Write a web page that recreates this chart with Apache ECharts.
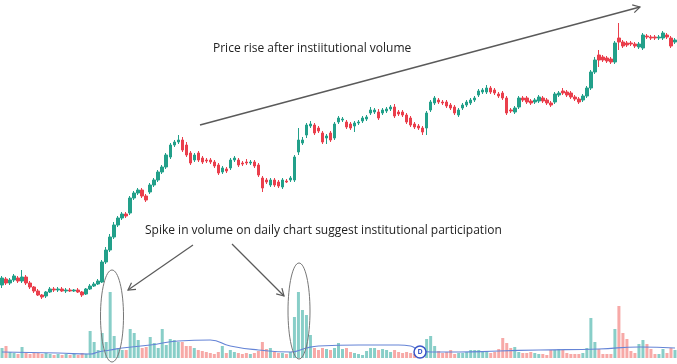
<!DOCTYPE html>
<html><head><meta charset="utf-8">
<script src="https://cdn.jsdelivr.net/npm/echarts@6/dist/echarts.min.js"></script>
<style>html,body{margin:0;padding:0;background:#fff}#c{width:677px;height:364px}</style>
</head><body><div id="c"></div>
<script>
// price values (arbitrary units), one per trading day
const opens = [115,121,117,120,122,119,123,117,113,109,
105,104,108,111,110,111,109,110,109,110,
108,106,111,114,116,118,138,150,163,175,
182,186,187,202,207,210,204,208,215,220,
228,233,243,255,258,260,255,247,240,247,
242,240,240,238,235,228,231,232,240,240,
237,238,237,238,235,222,220,215,220,218,
213,219,220,220,248,257,265,274,275,272,
267,262,267,262,278,280,278,276,274,277,
279,281,287,288,288,287,289,291,293,288,
288,285,282,276,274,272,272,290,297,300,
298,298,295,293,285,292,295,297,300,305,
308,308,312,310,306,307,302,290,288,293,
302,302,299,298,299,302,300,297,298,305,
309,308,307,303,301,300,304,312,328,345,
343,342,341,338,362,358,357,357,356,353,
352,364,363,363,362,362,365,362,358];
const closes = [122,117,120,124,119,123,117,113,109,105,
103,108,111,110,111,109,110,109,110,108,
105,111,114,116,119,138,150,163,175,182,
186,184,202,207,210,204,200,215,220,228,
233,245,255,258,260,250,245,237,245,240,
238,239,238,234,227,232,229,240,242,235,
236,237,238,234,225,212,218,220,215,214,
220,218,222,243,260,260,275,276,267,269,
258,264,260,276,282,281,273,272,277,278,
282,283,290,290,282,290,291,293,284,286,
285,278,275,273,272,268,287,298,302,298,
297,294,292,287,290,295,298,300,302,309,
310,312,308,307,304,302,287,289,292,302,
300,298,297,300,303,299,297,295,306,307,
307,305,303,301,298,304,312,328,340,340,
340,339,338,357,358,354,355,356,354,356,
365,363,362,362,363,367,363,354,360];
const lows = [112,115,115,118,117,117,115,111,107,104,
101,102,107,108,108,108,107,108,108,107,
103,105,110,113,115,117,136,148,161,173,
180,182,185,200,205,202,198,206,213,218,
226,231,241,253,256,248,243,235,238,238,
236,237,236,232,225,226,227,230,238,233,
234,235,235,232,223,208,216,213,213,212,
211,217,218,218,245,255,262,272,265,267,
256,256,258,260,276,278,271,270,268,275,
277,279,285,286,280,285,287,289,282,284,
283,276,273,271,270,265,265,288,295,296,
295,292,290,285,283,290,293,295,298,303,
306,306,306,305,302,300,285,287,286,291,
298,296,295,296,297,297,295,293,296,303,
305,303,301,299,296,298,302,310,326,333,
338,337,336,336,350,352,353,354,352,351,
350,361,360,360,360,360,361,352,356];
const highs = [124,123,122,126,124,130,125,119,114,111,
106,109,113,113,113,113,112,112,111,112,
109,112,116,118,121,140,153,166,178,184,
188,188,204,209,212,212,206,217,222,230,
235,247,257,260,265,263,258,249,247,249,
244,242,242,240,237,234,233,242,244,242,
239,241,240,240,237,224,222,222,222,220,
222,221,224,245,272,263,277,279,277,274,
269,266,269,278,284,283,280,278,279,280,
284,285,293,292,291,292,293,295,296,290,
290,287,284,278,276,274,289,300,304,302,
300,300,297,295,292,297,300,302,304,311,
312,315,314,312,308,309,304,292,294,304,
304,304,301,302,305,304,302,299,308,309,
312,310,309,305,303,306,314,330,343,350,
345,344,343,359,377,360,359,359,358,358,
367,366,365,365,365,369,367,364,362];
const volumes = [10,12,6,5,4,11,5,4,5,5,
4,5,4,3,4,3,4,3,4,3,
5,4,27,16,8,25,16,66,22,10,
8,8,29,25,18,10,11,21,15,10,
29,13,19,18,16,16,12,12,10,8,
7,6,5,4,6,12,5,8,6,5,
4,5,4,5,7,16,9,10,6,5,
5,4,6,41,66,48,43,23,10,8,
10,9,8,10,15,9,10,6,5,4,
3,7,10,10,8,9,8,6,8,6,
5,6,5,4,3,4,19,22,12,7,
5,6,8,4,5,5,6,8,8,8,
7,6,5,6,9,20,15,10,11,6,
5,5,6,5,4,4,3,8,8,9,
8,5,4,4,4,5,10,40,16,9,
4,4,4,29,52,25,19,7,5,14,
18,14,9,4,4,9,5,10,8];
// volume average line: [day index, value]
const volumeAvg = [[0,6],[14,5],[22,4],[24,6],[27,8],[30,10],[37,13],[44,17],[52,18],[57,12],[64,8],[72,6],[76,10],[79,12],[89,13],[99,13],[102,12],[104,8],[107,6],[114,6],[124,7],[134,8],[149,9],[159,11],[168,10]];
const days = opens.map((_, i) => 'Day ' + (i + 1));
const texts = {
  top: 'Price rise after instiitutional volume',
  bottom: 'Spike in volume on daily chart suggest institutional participation'
};

const UP = '#22a08a', DOWN = '#ea3f4c';
const UPV = 'rgba(38,166,154,0.55)', DOWNV = 'rgba(239,83,80,0.5)';
const candles = opens.map((o, i) => [o, closes[i], lows[i], highs[i]]);
const volData = volumes.map((v, i) => ({
  value: v,
  itemStyle: { color: closes[i] >= opens[i] ? UPV : DOWNV }
}));

const chart = echarts.init(document.getElementById('c'), null, { renderer: 'canvas' });
const gray = '#5a5a5a';
chart.setOption({
  animation: false,
  backgroundColor: '#fff',
  grid: [
    { left: 0, right: 0, top: 0, bottom: 0 },
    { left: 0, right: 0, top: 258, height: 100 }
  ],
  xAxis: [
    { type: 'category', data: days, gridIndex: 0, show: false, boundaryGap: true },
    { type: 'category', data: days, gridIndex: 1, show: false, boundaryGap: true }
  ],
  yAxis: [
    { type: 'value', gridIndex: 0, min: 36, max: 400, show: false, splitLine: { show: false } },
    { type: 'value', gridIndex: 1, min: 0, max: 100, show: false, splitLine: { show: false } }
  ],
  series: [
    {
      type: 'bar', xAxisIndex: 1, yAxisIndex: 1, data: volData, barWidth: 3, z: 1
    },
    {
      type: 'line', xAxisIndex: 1, yAxisIndex: 1, data: volumeAvg, smooth: true,
      showSymbol: false, lineStyle: { color: '#6584d6', width: 1.2 }, z: 2
    },
    {
      type: 'candlestick', xAxisIndex: 0, yAxisIndex: 0, data: candles, barWidth: 3, z: 3,
      itemStyle: { color: UP, color0: DOWN, borderColor: UP, borderColor0: DOWN, borderWidth: 1 }
    }
  ],
  graphic: [
    { type: 'text', left: 213, top: 43, style: { text: texts.top, font: '12px "Open Sans"', fill: '#222' } },
    { type: 'text', left: 145, top: 225, style: { text: texts.bottom, font: '12px "Open Sans"', fill: '#222' } },
    { type: 'line', shape: { x1: 200, y1: 125, x2: 640, y2: 7 }, style: { stroke: gray, lineWidth: 1.5 } },
    { type: 'polyline', shape: { points: [[632.2, 4.9], [640, 7], [634.3, 12.7]] }, style: { stroke: gray, lineWidth: 1.2, fill: null } },
    { type: 'line', shape: { x1: 193, y1: 245, x2: 128, y2: 290 }, style: { stroke: gray, lineWidth: 1.2 } },
    { type: 'polyline', shape: { points: [[131.5, 282.7], [128, 290], [136.0, 289.3]] }, style: { stroke: gray, lineWidth: 1.2, fill: null } },
    { type: 'line', shape: { x1: 232, y1: 244, x2: 284, y2: 296 }, style: { stroke: gray, lineWidth: 1.2 } },
    { type: 'polyline', shape: { points: [[276.2, 293.9], [284, 296], [281.9, 288.2]] }, style: { stroke: gray, lineWidth: 1.2, fill: null } },
    { type: 'ellipse', shape: { cx: 112, cy: 316, rx: 11.5, ry: 46 }, style: { stroke: '#777', lineWidth: 1, fill: null }, z: 10 },
    { type: 'ellipse', shape: { cx: 299, cy: 311, rx: 11, ry: 48 }, style: { stroke: '#777', lineWidth: 1, fill: null }, z: 10 },
    { type: 'circle', shape: { cx: 420, cy: 352, r: 6 }, style: { stroke: '#3a56c8', lineWidth: 1.5, fill: '#fff' }, z: 10 },
    { type: 'text', x: 420, y: 352, style: { text: 'D', font: 'bold 7px "Open Sans"', fill: '#3a56c8', align: 'center', verticalAlign: 'middle' }, z: 11 }
  ]
});
</script>
</body></html>
